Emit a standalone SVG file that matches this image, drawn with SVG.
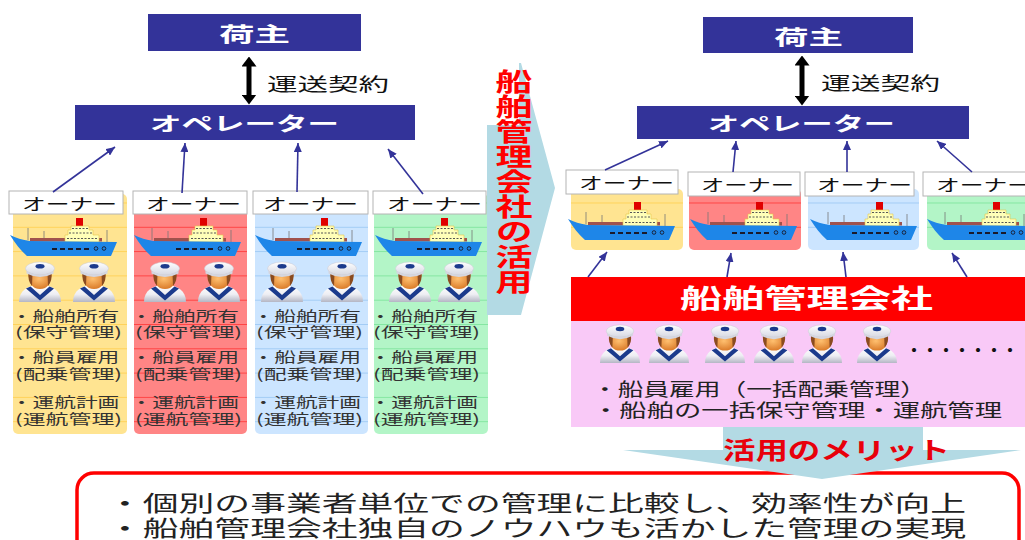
<svg xmlns="http://www.w3.org/2000/svg" xmlns:xlink="http://www.w3.org/1999/xlink" width="1025" height="540" viewBox="0 0 1025 540">
<style>
.t{font-family:"Noto Sans CJK JP","Noto Sans CJK SC",sans-serif}
.box{fill:#333399}
.wt{fill:#fff;font-weight:bold}
.own{fill:#fff;stroke:#B4B4B4;stroke-width:1}
.ot{font-size:16px;fill:#111}
.ct{font-size:14px;fill:#333}
.lab{font-size:18px;fill:#111}
.conn{stroke:#333399;stroke-width:1.6;fill:none;marker-end:url(#ah)}
.dbl{stroke:#000;stroke-width:5;fill:none;marker-start:url(#bh);marker-end:url(#bh)}
.pale{fill:#B3DAE4}
</style>
<defs>
<linearGradient id="gBody" x1="0" y1="0" x2="0" y2="1"><stop offset="0" stop-color="#FFFFFF"/><stop offset="0.55" stop-color="#EEEEF3"/><stop offset="1" stop-color="#B4B6C4"/></linearGradient>
<radialGradient id="gFace" cx="0.45" cy="0.4" r="0.7"><stop offset="0" stop-color="#FFC070"/><stop offset="1" stop-color="#D4701E"/></radialGradient>
<linearGradient id="gHat" x1="0" y1="0" x2="0" y2="1"><stop offset="0" stop-color="#FFFFFF"/><stop offset="1" stop-color="#D6D8E2"/></linearGradient>
<pattern id="pY" patternUnits="userSpaceOnUse" x="0" y="202.5" width="20" height="24.3"><rect width="20" height="24.3" fill="#FFE491"/><rect width="20" height="0.9" fill="#FFC93C" opacity="0.7"/></pattern>
<pattern id="pR" patternUnits="userSpaceOnUse" x="0" y="202.5" width="20" height="24.3"><rect width="20" height="24.3" fill="#FF8585"/><rect width="20" height="0.9" fill="#FF2020" opacity="0.7"/></pattern>
<pattern id="pB" patternUnits="userSpaceOnUse" x="0" y="202.5" width="20" height="24.3"><rect width="20" height="24.3" fill="#CCE5FF"/><rect width="20" height="0.9" fill="#94C4F2" opacity="0.8"/></pattern>
<pattern id="pG" patternUnits="userSpaceOnUse" x="0" y="202.5" width="20" height="24.3"><rect width="20" height="24.3" fill="#B3F5C7"/><rect width="20" height="0.9" fill="#74E294" opacity="0.8"/></pattern>
<marker id="ah" markerUnits="userSpaceOnUse" viewBox="0 0 10 10" refX="10" refY="5" markerWidth="9" markerHeight="8" preserveAspectRatio="none" orient="auto"><path d="M0,0 L10,5 L0,10 Z" fill="#333399"/></marker>
<marker id="bh" markerUnits="userSpaceOnUse" viewBox="0 0 10 15" refX="0.5" refY="7.5" markerWidth="10" markerHeight="15" orient="auto-start-reverse"><path d="M0,0 L10,7.5 L0,15 Z" fill="#000"/></marker>
<symbol id="ship" viewBox="0 0 108 40">
<g stroke="#777" stroke-width="0.8"><line x1="18" y1="10" x2="18" y2="22"/><line x1="34" y1="13" x2="34" y2="22"/><line x1="97" y1="12" x2="97" y2="24"/></g>
<rect x="20" y="20" width="72" height="3.5" fill="#A0524D"/>
<rect x="66" y="0" width="7" height="10" fill="#E00000"/>
<path d="M61,8 H79 V12 H83 V17 H89 V24 H55 V17 H58 V12 H61 Z" fill="#FFFFB8" stroke="#E6C84A" stroke-width="0.6"/>
<g stroke="#555" stroke-width="1" stroke-dasharray="2 1.5"><line x1="62" y1="10.5" x2="78" y2="10.5"/><line x1="59" y1="15" x2="82" y2="15"/><line x1="57" y1="20.5" x2="87" y2="20.5"/></g>
<path d="M0,17 C6,20 12,22 20,23 L107,24 L101,38 L17,38 C10,32 5,25 0,17 Z" fill="#1E86E8"/>
<line x1="42" y1="31" x2="80" y2="31" stroke="#1A1A2A" stroke-width="2" stroke-dasharray="5 3"/>
<circle cx="86" cy="30.5" r="1.8" fill="none" stroke="#1A1A2A" stroke-width="0.9"/>
<circle cx="94" cy="30.5" r="1.8" fill="none" stroke="#1A1A2A" stroke-width="0.9"/>
</symbol>
<symbol id="sailor" viewBox="0 0 44 42">
<path d="M1,42 C1,31 9,25 22,25 C35,25 43,31 43,42 Z" fill="url(#gBody)"/>
<path d="M8,28.5 L22,40.5 L36,28.5 L31.5,26.5 L22,35 L12.5,26.5 Z" fill="#1B3A8C"/>
<path d="M10.5,12 Q10.5,29 22,29 Q33.5,29 33.5,12 Z" fill="url(#gFace)"/>
<path d="M10.5,12 Q9.5,21 14,26 L14.5,13 Z M33.5,12 Q34.5,21 30,26 L29.5,13 Z" fill="#8A4B20"/>
<ellipse cx="22" cy="8.5" rx="14.5" ry="6.5" fill="url(#gHat)" stroke="#C8C8D2" stroke-width="0.5"/>
<path d="M8.5,11 Q22,18 35.5,11 L35.5,13.5 Q22,20.5 8.5,13.5 Z" fill="#D4D6E0"/>
<ellipse cx="22" cy="6.3" rx="4.5" ry="2.3" fill="#1B3A8C"/>
</symbol>
</defs>

<rect width="1025" height="540" fill="#fff"/>

<!-- LEFT: current structure -->
<g id="left-shipper">
<rect class="box" x="148" y="14" width="213" height="37"/>
<text class="t wt" x="219" y="41.5" font-size="20" textLength="71" lengthAdjust="spacingAndGlyphs">荷主</text>
</g>
<g id="left-contract-label">
<text class="t lab" x="267" y="90.5" textLength="122" lengthAdjust="spacingAndGlyphs">運送契約</text>
</g>
<g id="left-operator">
<rect class="box" x="75" y="105" width="340" height="35"/>
<text class="t wt" x="150" y="131" font-size="19" textLength="189" lengthAdjust="spacingAndGlyphs">オペレーター</text>
</g>

<g id="left-owner-1">
<rect x="13" y="194" width="114" height="240" rx="5" fill="url(#pY)"/>
<rect class="own" x="9" y="191" width="114" height="23"/>
<text class="t ot" x="22" y="209.5" textLength="95" lengthAdjust="spacingAndGlyphs">オーナー</text>
<use href="#ship" x="10" y="218" width="108" height="40"/>
<use href="#sailor" x="18" y="260" width="44" height="42"/>
<use href="#sailor" x="72" y="260" width="44" height="42"/>
<text class="t ct" x="10.8" y="321" textLength="108.5" lengthAdjust="spacingAndGlyphs">・船舶所有</text>
<text class="t ct" x="15" y="337" textLength="107" lengthAdjust="spacingAndGlyphs">(保守管理)</text>
<text class="t ct" x="10.8" y="362" textLength="108.5" lengthAdjust="spacingAndGlyphs">・船員雇用</text>
<text class="t ct" x="15" y="379" textLength="107" lengthAdjust="spacingAndGlyphs">(配乗管理)</text>
<text class="t ct" x="10.8" y="407" textLength="108.5" lengthAdjust="spacingAndGlyphs">・運航計画</text>
<text class="t ct" x="15" y="424" textLength="107" lengthAdjust="spacingAndGlyphs">(運航管理)</text>
</g>

<g id="left-owner-2">
<rect x="134" y="194" width="113" height="240" rx="5" fill="url(#pR)"/>
<rect class="own" x="133" y="191" width="114" height="23"/>
<text class="t ot" x="146" y="209.5" textLength="95" lengthAdjust="spacingAndGlyphs">オーナー</text>
<use href="#ship" x="134" y="218" width="108" height="40"/>
<use href="#sailor" x="143" y="260" width="44" height="42"/>
<use href="#sailor" x="197" y="260" width="44" height="42"/>
<text class="t ct" x="130.5" y="321" textLength="108.5" lengthAdjust="spacingAndGlyphs">・船舶所有</text>
<text class="t ct" x="135" y="337" textLength="107" lengthAdjust="spacingAndGlyphs">(保守管理)</text>
<text class="t ct" x="130.5" y="362" textLength="108.5" lengthAdjust="spacingAndGlyphs">・船員雇用</text>
<text class="t ct" x="135" y="379" textLength="107" lengthAdjust="spacingAndGlyphs">(配乗管理)</text>
<text class="t ct" x="130.5" y="407" textLength="108.5" lengthAdjust="spacingAndGlyphs">・運航計画</text>
<text class="t ct" x="135" y="424" textLength="107" lengthAdjust="spacingAndGlyphs">(運航管理)</text>
</g>

<g id="left-owner-3">
<rect x="255" y="194" width="113" height="240" rx="5" fill="url(#pB)"/>
<rect class="own" x="253" y="191" width="115" height="23"/>
<text class="t ot" x="263" y="209.5" textLength="95" lengthAdjust="spacingAndGlyphs">オーナー</text>
<use href="#ship" x="255" y="218" width="108" height="40"/>
<use href="#sailor" x="260" y="260" width="44" height="42"/>
<use href="#sailor" x="320" y="260" width="44" height="42"/>
<text class="t ct" x="252.5" y="321" textLength="108.5" lengthAdjust="spacingAndGlyphs">・船舶所有</text>
<text class="t ct" x="256" y="337" textLength="107" lengthAdjust="spacingAndGlyphs">(保守管理)</text>
<text class="t ct" x="252.5" y="362" textLength="108.5" lengthAdjust="spacingAndGlyphs">・船員雇用</text>
<text class="t ct" x="256" y="379" textLength="107" lengthAdjust="spacingAndGlyphs">(配乗管理)</text>
<text class="t ct" x="252.5" y="407" textLength="108.5" lengthAdjust="spacingAndGlyphs">・運航計画</text>
<text class="t ct" x="256" y="424" textLength="107" lengthAdjust="spacingAndGlyphs">(運航管理)</text>
</g>

<g id="left-owner-4">
<rect x="374" y="194" width="114" height="240" rx="5" fill="url(#pG)"/>
<rect class="own" x="373" y="191" width="113" height="23"/>
<text class="t ot" x="387" y="209.5" textLength="95" lengthAdjust="spacingAndGlyphs">オーナー</text>
<use href="#ship" x="375" y="218" width="108" height="40"/>
<use href="#sailor" x="388" y="260" width="44" height="42"/>
<use href="#sailor" x="437" y="260" width="44" height="42"/>
<text class="t ct" x="369.5" y="321" textLength="108.5" lengthAdjust="spacingAndGlyphs">・船舶所有</text>
<text class="t ct" x="373" y="337" textLength="107" lengthAdjust="spacingAndGlyphs">(保守管理)</text>
<text class="t ct" x="369.5" y="362" textLength="108.5" lengthAdjust="spacingAndGlyphs">・船員雇用</text>
<text class="t ct" x="373" y="379" textLength="107" lengthAdjust="spacingAndGlyphs">(配乗管理)</text>
<text class="t ct" x="369.5" y="407" textLength="108.5" lengthAdjust="spacingAndGlyphs">・運航計画</text>
<text class="t ct" x="373" y="424" textLength="107" lengthAdjust="spacingAndGlyphs">(運航管理)</text>
</g>

<!-- transition arrow -->
<g id="transition-arrow">
<polygon class="pale" points="487,125 519,125 519,63 521,63 555,188 521,315 487,315"/>
<text class="t" transform="translate(514,69) scale(1.48,1)" style="writing-mode:vertical-rl" font-size="25" font-weight="bold" fill="#FF0000">船舶管理会社の活用</text>
</g>

<!-- RIGHT: with ship management company -->
<g id="right-shipper">
<rect class="box" x="703" y="17" width="210" height="36"/>
<text class="t wt" x="774" y="44.5" font-size="20" textLength="69" lengthAdjust="spacingAndGlyphs">荷主</text>
</g>
<g id="right-contract-label">
<text class="t lab" x="821" y="89.5" textLength="119" lengthAdjust="spacingAndGlyphs">運送契約</text>
</g>
<g id="right-operator">
<rect class="box" x="637" y="106" width="332" height="33"/>
<text class="t wt" x="708" y="131" font-size="19" textLength="187" lengthAdjust="spacingAndGlyphs">オペレーター</text>
</g>

<g id="right-owner-1">
<rect x="571" y="189" width="112" height="61" rx="5" fill="url(#pY)"/>
<rect class="own" x="566" y="170" width="112" height="24"/>
<text class="t ot" x="579" y="188.5" textLength="95" lengthAdjust="spacingAndGlyphs">オーナー</text>
<use href="#ship" x="568" y="202" width="108" height="40"/>
</g>
<g id="right-owner-2">
<rect x="689" y="189" width="112" height="61" rx="5" fill="url(#pR)"/>
<rect class="own" x="688" y="172" width="112" height="24"/>
<text class="t ot" x="701" y="190.5" textLength="93" lengthAdjust="spacingAndGlyphs">オーナー</text>
<use href="#ship" x="690" y="202" width="108" height="40"/>
</g>
<g id="right-owner-3">
<rect x="808" y="189" width="111" height="61" rx="5" fill="url(#pB)"/>
<rect class="own" x="805" y="172" width="109" height="24"/>
<text class="t ot" x="817" y="190.5" textLength="95" lengthAdjust="spacingAndGlyphs">オーナー</text>
<use href="#ship" x="810" y="202" width="108" height="40"/>
</g>
<g id="right-owner-4">
<rect x="927" y="189" width="112" height="61" rx="5" fill="url(#pG)"/>
<rect class="own" x="923" y="172" width="112" height="24"/>
<text class="t ot" x="936" y="190.5" textLength="95" lengthAdjust="spacingAndGlyphs">オーナー</text>
<use href="#ship" x="927" y="202" width="108" height="40"/>
</g>

<g id="ship-management-company">
<rect x="571" y="321" width="460" height="106" fill="#F9C9F7"/>
<rect x="571" y="277" width="460" height="44" fill="#FF0000"/>
<text class="t wt" x="680" y="308" font-size="26" textLength="253" lengthAdjust="spacingAndGlyphs">船舶管理会社</text>
<use href="#sailor" x="598" y="323" width="44" height="40"/>
<use href="#sailor" x="647" y="323" width="44" height="40"/>
<use href="#sailor" x="703" y="323" width="44" height="40"/>
<use href="#sailor" x="752" y="323" width="44" height="40"/>
<use href="#sailor" x="800" y="323" width="44" height="40"/>
<use href="#sailor" x="855" y="323" width="44" height="40"/>
<text class="t" x="906" y="356" font-size="16" font-weight="bold" fill="#111" textLength="112" lengthAdjust="spacingAndGlyphs">・・・・・・・</text>
<text class="t" x="592" y="396" font-size="18" fill="#222" textLength="334" lengthAdjust="spacingAndGlyphs">・船員雇用（一括配乗管理）</text>
<text class="t" x="592" y="417" font-size="18" fill="#222" textLength="410" lengthAdjust="spacingAndGlyphs">・船舶の一括保守管理・運航管理</text>
</g>

<g id="merit-box">
<rect x="77" y="473" width="942" height="100" rx="17" fill="#fff" stroke="#FF0000" stroke-width="3.5"/>
<text class="t" x="107" y="510.5" font-size="22" fill="#222" textLength="859" lengthAdjust="spacingAndGlyphs">・個別の事業者単位での管理に比較し、効率性が向上</text>
<text class="t" x="107" y="535.5" font-size="22" fill="#222" textLength="859" lengthAdjust="spacingAndGlyphs">・船舶管理会社独自のノウハウも活かした管理の実現</text>
</g>

<g id="merit-arrow">
<polygon class="pale" points="723,427 923,427 923,450 1021,450 822,479 623,450 723,450"/>
<text class="t" x="723" y="459" font-size="24" font-weight="bold" fill="#E8000B" textLength="227" lengthAdjust="spacingAndGlyphs">活用のメリット</text>
</g>

<g id="connectors">
<line class="dbl" x1="249" y1="66" x2="249" y2="95"/>
<line class="dbl" x1="802" y1="65" x2="802" y2="96"/>
<line class="conn" x1="53" y1="192" x2="115" y2="147"/>
<line class="conn" x1="182" y1="193" x2="185" y2="143"/>
<line class="conn" x1="297" y1="192" x2="298" y2="143"/>
<line class="conn" x1="423" y1="194" x2="388" y2="149"/>
<line class="conn" x1="605" y1="170" x2="668" y2="141"/>
<line class="conn" x1="733" y1="172" x2="736" y2="141"/>
<line class="conn" x1="847" y1="172" x2="847" y2="141"/>
<line class="conn" x1="972" y1="172" x2="937" y2="141"/>
<line class="conn" x1="588" y1="277" x2="607" y2="252"/>
<line class="conn" x1="727" y1="277" x2="731" y2="253"/>
<line class="conn" x1="846" y1="277" x2="843" y2="252"/>
<line class="conn" x1="967" y1="277" x2="952" y2="253"/>
</g>
</svg>
